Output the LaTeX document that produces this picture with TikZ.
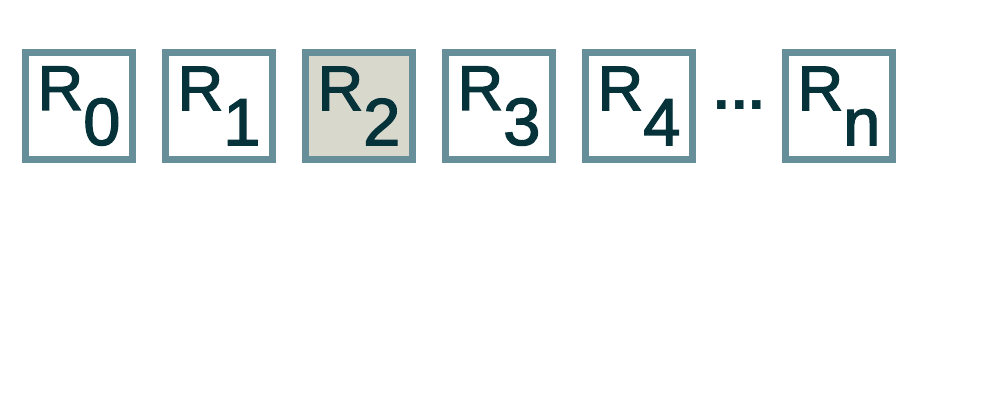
\documentclass[tikz,border=0pt]{standalone}
\usepackage{fontspec}
\setmainfont{Liberation Sans}
\newfontfamily\regfont[FakeBold=2]{Liberation Sans}
\usepackage{xcolor}
\usetikzlibrary{positioning}
\definecolor{regline}{HTML}{668F9A}
\definecolor{regtext}{HTML}{06323A}
\definecolor{regfill}{HTML}{D8D8CD}
\newcommand{\regname}[1]{R\lower0.7cm\hbox{\fontsize{38}{40}\selectfont #1}}

\begin{document}
\begin{tikzpicture}[
    every node/.style={font=\regfont\fontsize{36}{40}\selectfont, text=regtext},
    reg/.style={draw=regline, line width=0.14cm, fill=white,
        minimum size=2.14cm, inner sep=0pt},
    cur/.style={reg, fill=regfill}
]
    \useasboundingbox (0,0) rectangle (20,8);

    \node[reg] (r0) at (1.58,5.88) {\regname{0}};
    \node[reg] (r1) at (4.38,5.88) {\regname{1}};
    \node[cur] (r2) at (7.18,5.88) {\regname{2}};
    \node[reg] (r3) at (9.98,5.88) {\regname{3}};
    \node[reg] (r4) at (12.78,5.88) {\regname{4}};
    \node[reg] (rn) at (16.78,5.88) {\regname{n}};

    \node[anchor=base, font=\fontsize{34}{40}\selectfont\bfseries] (dots) at (14.79,5.80) {.\kern0.5pt.\kern0.5pt.};
\end{tikzpicture}
\end{document}
